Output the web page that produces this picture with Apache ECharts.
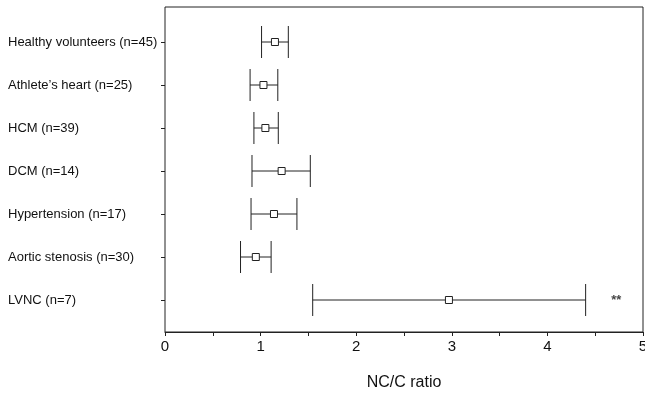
<!DOCTYPE html>
<html><head><meta charset="utf-8">
<script src="https://cdn.jsdelivr.net/npm/echarts@6/dist/echarts.min.js"></script>
<style>html,body{margin:0;padding:0;background:#fff;overflow:hidden}#c{width:645px;height:395px}</style>
</head><body><div id="c"></div>
<script>
const categories = ["Healthy volunteers (n=45)", "Athlete\u2019s heart (n=25)", "HCM (n=39)", "DCM (n=14)", "Hypertension (n=17)", "Aortic stenosis (n=30)", "LVNC (n=7)"];
const meanValues = [1.15, 1.03, 1.05, 1.22, 1.14, 0.95, 2.97];
const lowValues  = [1.01, 0.89, 0.93, 0.91, 0.90, 0.79, 1.545];
const highValues = [1.29, 1.18, 1.185, 1.52, 1.38, 1.11, 4.40];
const xTicks = [0, 1, 2, 3, 4, 5];
const significance = {category: "LVNC (n=7)", x: 4.72, text: "**"};

const font = "'Liberation Sans', Arial, sans-serif";
const data = categories.map((c, i) => [i, lowValues[i], meanValues[i], highValues[i]]);

const chart = echarts.init(document.getElementById('c'), null, {renderer: 'canvas', width: 645, height: 395});
chart.setOption({
  animation: false,
  grid: [
    {left: 165, width: 478, top: 20.5, height: 301, containLabel: false, outerBoundsMode: 'none'},
    {left: 165, width: 478, top: 7, height: 325, containLabel: false, outerBoundsMode: 'none',
     show: true, borderColor: '#222', borderWidth: 1, backgroundColor: 'transparent'}
  ],
  xAxis: [
    {gridIndex: 0, type: 'value', min: 0, max: 5, show: false},
    {gridIndex: 1, type: 'value', min: 0, max: 5, interval: 0.5,
     axisLine: {show: true, lineStyle: {color: '#222', width: 1}},
     axisTick: {show: true, length: 4, lineStyle: {color: '#222'}},
     splitLine: {show: false},
     axisLabel: {color: '#111', fontSize: 15, fontFamily: font, margin: 7, hideOverlap: false,
       formatter: v => xTicks.indexOf(v) >= 0 ? String(v) : ''},
     name: 'NC/C ratio', nameLocation: 'middle', nameGap: 43,
     nameTextStyle: {color: '#111', fontSize: 16, fontFamily: font}}
  ],
  yAxis: [
    {gridIndex: 0, type: 'category', data: categories, inverse: true,
     axisLine: {show: false},
     axisTick: {show: true, alignWithLabel: true, length: 4, lineStyle: {color: '#222'}},
     axisLabel: {color: '#111', fontSize: 13, fontFamily: font, align: 'left', margin: 157}},
    {gridIndex: 1, type: 'value', min: 0, max: 1, show: false}
  ],
  series: [
    {type: 'custom', xAxisIndex: 0, yAxisIndex: 0, data: data,
     encode: {x: [1, 2, 3], y: 0},
     renderItem: function (params, api) {
       const yi = api.value(0);
       const lo = api.coord([api.value(1), yi]);
       const mid = api.coord([api.value(2), yi]);
       const hi = api.coord([api.value(3), yi]);
       const h = 16, s = 3.5;
       const st = {stroke: '#222', lineWidth: 1};
       return {type: 'group', children: [
         {type: 'line', shape: {x1: lo[0], y1: lo[1], x2: hi[0], y2: hi[1]}, style: st},
         {type: 'line', shape: {x1: lo[0], y1: lo[1] - h, x2: lo[0], y2: lo[1] + h}, style: st},
         {type: 'line', shape: {x1: hi[0], y1: hi[1] - h, x2: hi[0], y2: hi[1] + h}, style: st},
         {type: 'rect', shape: {x: mid[0] - s, y: mid[1] - s, width: 2 * s, height: 2 * s}, style: {fill: '#fff', stroke: '#222', lineWidth: 1}}
       ]};
     }},
    {type: 'scatter', xAxisIndex: 0, yAxisIndex: 0, symbolSize: 0,
     data: [[significance.x, significance.category]],
     label: {show: true, position: 'inside', formatter: significance.text, color: '#111', fontSize: 13, fontWeight: 'bold', fontFamily: font}}
  ]
});
</script></body></html>
